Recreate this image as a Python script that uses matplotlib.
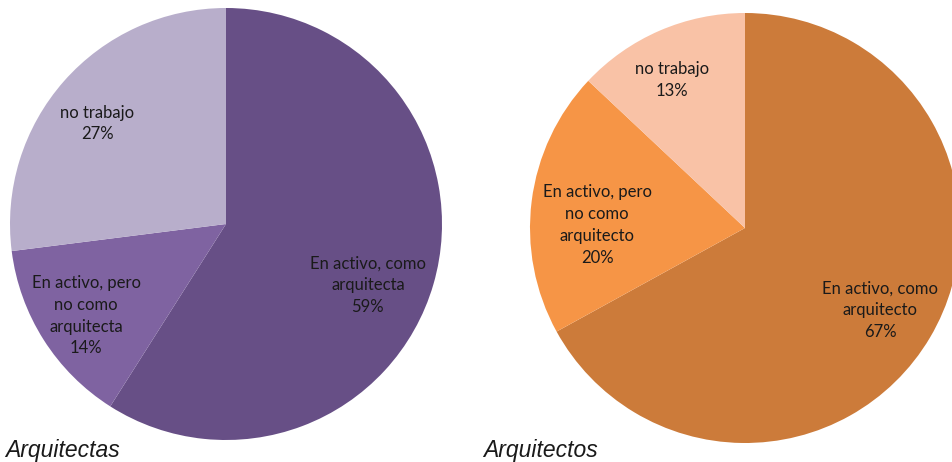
import matplotlib
matplotlib.use("Agg")
import matplotlib.pyplot as plt

# data
categories_f = ["En activo, como\narquitecta", "En activo, pero\nno como\narquitecta", "no trabajo"]
values_f = [59, 14, 27]
colors_f = ["#674F86", "#7F63A1", "#B8AECB"]

categories_m = ["En activo, como\narquitecto", "En activo, pero\nno como\narquitecto", "no trabajo"]
values_m = [67, 20, 13]
colors_m = ["#CC7B3A", "#F69546", "#F9C2A6"]

titles = ["Arquitectas", "Arquitectos"]

# where the data labels sit, in pie-radius units from the centre
label_xy_f = [(0.657, -0.283), (-0.648, -0.424), (-0.597, 0.465)]
label_xy_m = [(0.628, -0.382), (-0.688, 0.014), (-0.340, 0.688)]

W, H = 952, 462
fig = plt.figure(figsize=(W / 100, H / 100), dpi=100)


def draw_pie(rect, cats, vals, cols, label_xy):
    ax = fig.add_axes(rect)
    ax.pie(
        vals,
        colors=cols,
        startangle=90,
        counterclock=False,
        radius=1.0,
        wedgeprops=dict(linewidth=0),
    )
    for c, v, (x, y) in zip(cats, vals, label_xy):
        ax.text(x, y, f"{c}\n{v}%", ha="center", va="center", multialignment="center",
                fontsize=12, family="Lato", color="#1a1a1a", linespacing=1.45)
    ax.set_xlim(-1, 1)
    ax.set_ylim(-1, 1)
    ax.set_aspect("equal")
    ax.axis("off")
    return ax


# left pie: centre (226, 224) px from top, radius 216
draw_pie([10 / W, 22 / H, 432 / W, 432 / H], categories_f, values_f, colors_f, label_xy_f)
# right pie: centre (745, 228) px from top, radius 215
draw_pie([530 / W, 19 / H, 430 / W, 430 / H], categories_m, values_m, colors_m, label_xy_m)

fig.text(5 / W, 5 / H, titles[0], fontsize=16.5, style="italic", family="Liberation Sans", color="#1a1a1a")
fig.text(483 / W, 5 / H, titles[1], fontsize=16.5, style="italic", family="Liberation Sans", color="#1a1a1a")

fig.savefig("out.png", dpi=100)
